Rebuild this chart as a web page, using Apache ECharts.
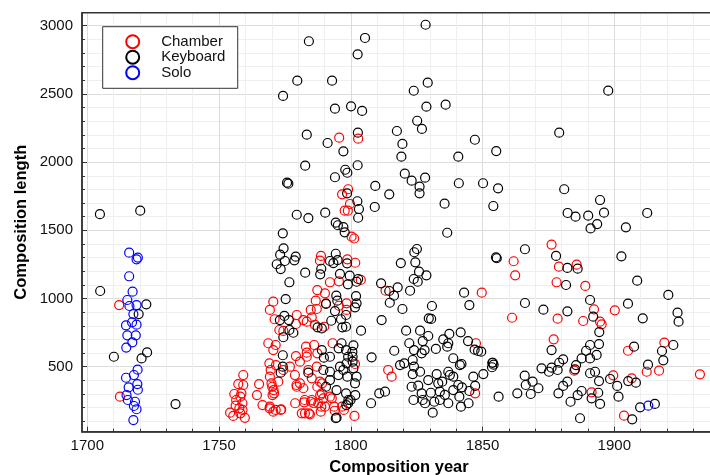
<!DOCTYPE html>
<html><head><meta charset="utf-8">
<script src="https://cdn.jsdelivr.net/npm/echarts@6/dist/echarts.min.js"></script>
<style>html,body{margin:0;padding:0;background:#fff}#c{width:710px;height:475px}</style>
</head><body><div id="c"></div><script>
// [composition year, composition length]
const chamber = [
[1712.1,952],[1712.4,280],
[1755.8,300],[1758.1,280],[1756.5,256],[1758.9,232],[1754.2,163],[1755.4,139],[1758.1,158],[1758.9,183],[1757.7,195],[1757.3,373],[1759.2,439],[1759.2,366],[1758.5,305],[1759.8,125],[1756.3,215],
[1764.4,292],[1766.5,219],[1765.2,373],[1769.9,378],[1770.7,329],[1770.3,292],[1769.2,195],[1771.5,183],[1773.6,187],[1770.6,170],[1773.4,183],[1769.3,207],
[1778.9,232],[1779.4,366],[1781.4,158],[1782.5,256],[1784.9,243],[1784.1,158],[1786,232],[1788.4,292],[1788.8,207],[1787.3,353],[1789.1,378],[1792.8,268],[1793.9,177],[1796.7,207],[1801.4,139],
[1769.1,525],[1769.6,476],[1769.3,427],[1771.6,512],[1774.4,476],[1776.9,500],[1772.5,390],[1770.2,353],[1770.9,305],
[1778.8,439],[1779.5,353],[1780.7,378],[1782,342],[1782.6,158],[1784.5,151],[1782.3,239],[1785.2,256],
[1783.9,476],[1785.2,415],[1787.1,500],[1788.3,390],[1789,305],[1787.7,232],[1789.6,268],[1790.2,207],[1783.3,573],[1780.7,537],
[1792.1,280],[1793.7,207],[1797.4,183],[1788.6,170],[1801.6,520],
[1768.7,672],[1771.5,659],[1770.6,622],[1779.2,578],[1783,647],[1783.3,603],[1786.1,659],[1787.3,598],[1793.1,672],
[1772.9,769],[1774.4,762],[1779.2,813],[1783.3,830],[1785.2,862],[1786.4,806],[1789.9,793],
[1770.6,977],[1769.3,916],[1771.1,848],[1779.5,879],[1782,842],[1784.8,916],[1787.1,923],[1786.7,984],[1787.3,1062],[1790.2,1038],[1790.6,965],[1795.5,947],[1798.4,965],[1798.4,916],
[1788.7,1312],[1788.3,1277],[1798.7,1287],[1801.7,1262],[1792.1,1119],[1795.5,1126],[1803.8,1136],[1801.3,1440],[1800.3,1453],
[1795.6,2179],[1802.8,2172],[1799,1801],[1796.7,1764],[1799.7,1693],[1797.7,1644],[1798.9,1644],
[1813.2,1057],[1814.2,476],[1815.5,427],[1849.7,1043],[1847.5,672],[1847.2,305],
[1876.2,1395],[1861.8,1273],[1862.4,1170],[1879,1233],[1885.7,1248],[1878.1,1119],[1889,1092],[1861.2,859],[1878.5,852],[1888.2,835],[1892.3,921],[1900.2,913],[1894.6,830],[1895.2,811],[1877,701],[1905.2,617],[1919,676],[1884.8,471],[1891.4,312],[1899.6,437],[1906.6,415],[1912.3,463],[1917,471],[1932.5,444],[1903.7,141]
];
const keyboard = [
[1704.8,1618],[1720.1,1644],[1704.9,1055],[1722.4,957],[1719.5,886],[1710.1,573],[1720.6,561],[1722.7,605],[1733.5,226],
[1828.4,3007],[1784.1,2886],[1805.4,2910],[1802.6,2790],[1779.7,2597],[1792.9,2597],[1829.2,2582],[1823.9,2523],[1774.3,2485],[1794,2392],[1800.1,2409],[1804.3,2375],[1828.7,2406],[1836,2421],[1825.2,2303],[1827,2243],[1817.5,2228],[1783.3,2201],[1802.7,2216],[1847.1,2164],[1791.2,2140],[1819.6,2133],[1797.2,2079],[1855.2,2081],[1819.2,2040],[1840.8,2040],[1782.7,1974],[1802.6,1977],[1797.9,1944],[1798.7,1922],[1794,1889],[1820.5,1915],[1823.1,1864],[1828.2,1886],[1826.1,1820],[1826.1,1771],[1775.8,1849],[1776.3,1842],[1809.3,1825],[1814.6,1764],[1841,1845],[1850.2,1845],[1855.9,1808],[1798.6,1771],[1802.5,1713],[1835.6,1695],[1854.1,1678],[1809.1,1671],[1803.1,1656],[1802.8,1592],[1779.5,1614],[1783.9,1590],[1790.3,1629],[1794.3,1556],[1795.1,1537],[1797.2,1524],[1797.7,1485],[1774.2,1478],[1836.6,1482],
[1774.5,1368],[1773.2,1321],[1775,1275],[1771.9,1251],[1773.4,1216],[1779.1,1307],[1778.6,1280],[1794.3,1328],[1792.1,1275],[1793.4,1260],[1795,1282],[1798.6,1258],[1782.7,1189],[1788.4,1177],[1788.8,1218],[1795.9,1180],[1799.6,1167],[1802.8,1143],[1802.2,1123],[1798.9,1104],[1776.7,1119],[1811.5,1111],[1814.6,1055],[1816.4,1021],[1817.8,1082],[1822.5,1057],[1814.8,969],[1819.6,923],[1819,1260],[1824.5,1265],[1824.1,1339],[1825.1,1363],[1825.9,1197],[1823.9,1143],[1825.4,1123],[1828.7,1170],[1830.8,945],[1829.6,855],[1830.5,850],[1843,1043],[1845,952],[1855.4,1295],[1775.3,996],[1773.1,842],[1774.8,872],[1776.5,842],[1790.6,960],[1794.5,1021],[1794.9,984],[1794,908],[1802,1018],[1802.2,965],[1801.6,935],[1798.2,879],[1803.9,764],[1787.4,789],[1789,781],[1792.6,837],[1796.3,848],[1796.8,789],[1798.2,793],[1776.7,769],[1778.2,749],[1774.4,716],[1774.2,584],[1789,622],[1789.8,566],[1792.1,573],[1795.4,635],[1796.5,672],[1798.2,622],[1800.6,608],[1801,657],[1800.7,573],[1807.9,569],[1816.5,617],[1811.7,842],[1821,764],[1822.2,672],[1826.3,764],[1827.3,688],[1829.4,725],[1826.9,598],[1824,622],[1828,622],[1832.3,630],[1835.1,701],[1837,672],[1837.4,740],[1836.6,647],[1841.7,752],[1844.5,688],[1848.3,615],[1847,625],[1838.9,562],[1841.4,512],[1842,520],[1850.3,446],[1853.7,529],[1854.2,515],[1856.1,280],[1818.7,512],[1820.3,525],[1823.5,549],[1824,500],[1823.5,446],[1826.3,463],[1810.8,305],[1813,317],[1807.7,232],[1823.1,353],[1826.9,305],[1827.3,256],[1828.2,232],[1829.4,402],[1830.4,309],[1831.1,163],[1831.7,243],[1832.6,446],[1833.2,378],[1834.7,390],[1833.8,317],[1837,463],[1837.6,439],[1838.9,427],[1835.7,293],[1837,232],[1838.9,329],[1841.2,280],[1841.8,207],[1840.8,366],[1842.2,349],[1844.7,232],[1846.5,427],[1847.2,359],[1845,322],[1833.8,256],[1823.8,256],[1825.6,361],
[1773.4,456],[1774.2,500],[1783.9,456],[1789.6,476],[1792.1,463],[1795.3,439],[1795.9,500],[1797.2,476],[1799,573],[1800.7,537],[1801,488],[1802.2,427],[1801.6,378],[1798.7,427],[1794.6,329],[1798.2,305],[1799,232],[1794.6,126],[1790.6,353],[1792.1,402],[1798.4,525],[1794.3,122],[1798.3,219],[1799.1,256],[1799.9,256],[1801.7,292],
[1897.7,2524],[1879.1,2216],[1881,1801],[1894.6,1722],[1882.3,1627],[1885.3,1600],[1890.1,1607],[1893.5,1546],[1896.1,1629],[1891,1514],[1912.5,1627],[1904.4,1522],[1855.1,1302],[1866.1,1361],[1877.9,1312],[1882.2,1224],[1886.1,1219],[1881.7,1099],[1902.7,1309],[1908.7,1131],[1866.1,967],[1873.1,918],[1882.2,906],[1890.8,989],[1892,867],[1894.3,754],[1905.2,962],[1910.8,855],[1920.5,1026],[1924,896],[1924.4,830],[1876.2,622],[1890.8,659],[1889.3,617],[1894.2,666],[1893.3,586],[1890.8,561],[1887.6,561],[1907.5,647],[1922.4,659],[1918.1,615],[1918.6,547],[1880.6,554],[1879.1,529],[1876.2,493],[1872.4,488],[1875.2,463],[1878.5,476],[1885.5,512],[1885.1,481],[1849.5,610],[1853.9,529],[1853.6,496],[1866,434],[1869,390],[1866.4,366],[1871.2,342],[1863.2,305],[1868.3,300],[1878.8,305],[1880.6,359],[1882.2,390],[1883.4,243],[1886.1,292],[1887.6,322],[1887,122],[1890.8,452],[1892.7,463],[1894.2,395],[1891.4,268],[1893.9,309],[1894.6,227],[1898.4,410],[1901.1,359],[1901.6,280],[1905.3,395],[1908.2,383],[1912.8,515],[1906.8,114],[1909.8,202],[1915.4,227]
];
const solo = [
[1715.9,1336],[1718.7,1287],[1719.2,1300],[1715.9,1163],[1717.2,1050],[1715.2,989],[1716,945],[1718.7,952],[1717.5,886],[1714.7,803],[1718.7,808],[1717,825],[1715.2,730],[1718.4,730],[1717.1,679],[1714.8,640],[1719.1,478],[1714.7,419],[1717.7,439],[1719,373],[1715.7,349],[1719.2,331],[1714.9,292],[1715.4,256],[1718.1,243],[1717.7,212],[1718.7,188],[1717.5,109],[1912.9,214]
];
const seriesNames = ['Chamber','Keyboard','Solo'];
const seriesColors = ['#ff0000','#000000','#0000ff'];
const xTitle = 'Composition year';
const yTitle = 'Composition length';

const FF = "'Liberation Sans', Arial, sans-serif";
const chart = echarts.init(document.getElementById('c'), null, {renderer:'canvas'});
const plain = v => String(v);

function sc(name, data, color){
  return {type:'scatter', name:name, data:data, xAxisIndex:0, yAxisIndex:0,
    symbol:'circle', symbolSize:9, silent:true,
    itemStyle:{color:'rgba(0,0,0,0)', borderColor:color, borderWidth:1.2, opacity:1},
    emphasis:{disabled:true}};
}
const G = {top:12.7, bottom:43.3};
const option = {
  animation:false,
  backgroundColor:'#fff',
  grid:[
    {left:82, right:-6, top:G.top, bottom:G.bottom, show:true, borderColor:'#333', borderWidth:1.5, backgroundColor:'rgba(0,0,0,0)', z:10, outerBoundsMode:'none'},
    {left:87.3, right:-36.05, top:G.top, bottom:G.bottom, outerBoundsMode:'none'},
    {left:82, right:-6, top:12.06, bottom:53.7, outerBoundsMode:'none'},
    {left:82, right:-6, top:25.7, bottom:108.3, outerBoundsMode:'none'}
  ],
  legend:{
    orient:'vertical', left:102.7, top:26.7, itemWidth:13, itemHeight:13, itemGap:0.5,
    padding:[7.5,12.3,8.1,22.5], borderColor:'#333', borderWidth:1, backgroundColor:'#fff',
    selectedMode:false, data:seriesNames,
    textStyle:{fontSize:15, fontFamily:FF, color:'#111', padding:[0,0,0,17]}
  },
  xAxis:[
    {gridIndex:0, type:'value', min:1698, max:1938.6, z:5,
     axisLine:{show:true, onZero:false, lineStyle:{color:'#333', width:1.5}},
     axisTick:{show:false}, axisLabel:{show:false}, splitLine:{show:false},
     name:xTitle, nameLocation:'middle', nameGap:27,
     nameTextStyle:{fontSize:16.5, fontWeight:'bold', color:'#000', fontFamily:FF}},
    {gridIndex:1, type:'value', min:1700, max:1950, interval:50,
     axisLine:{show:false},
     axisTick:{show:true, inside:true, length:5, lineStyle:{color:'#333', width:1}},
     minorTick:{show:true, splitNumber:5, length:3, lineStyle:{color:'#333', width:1}},
     axisLabel:{fontSize:15, margin:7, color:'#111', fontFamily:FF, showMaxLabel:false, formatter:plain},
     splitLine:{show:true, lineStyle:{color:'#dcdcdc', width:1}},
     minorSplitLine:{show:true, lineStyle:{color:'#efefef', width:1}}},
    {gridIndex:2, type:'value', show:false, min:0, max:1},
    {gridIndex:3, type:'value', show:false, min:0, max:1}
  ],
  yAxis:[
    {gridIndex:0, type:'value', min:23.5, max:3095.3, z:5,
     axisLine:{show:true, onZero:false, lineStyle:{color:'#333', width:1.5}},
     axisTick:{show:false}, axisLabel:{show:false}, splitLine:{show:false},
     name:yTitle, nameLocation:'middle', nameGap:52, nameRotate:90,
     nameTextStyle:{fontSize:16.5, fontWeight:'bold', color:'#000', fontFamily:FF}},
    {gridIndex:1, type:'value', show:false, min:0, max:1},
    {gridIndex:2, type:'value', min:100, max:3100, interval:100,
     axisLine:{show:false},
     axisTick:{show:true, inside:true, length:3, lineStyle:{color:'#333', width:1}},
     axisLabel:{show:false},
     splitLine:{show:true, lineStyle:{color:'#efefef', width:1}}},
    {gridIndex:3, type:'value', min:500, max:3000, interval:500,
     axisLine:{show:false},
     axisTick:{show:true, inside:true, length:5, lineStyle:{color:'#333', width:1}},
     axisLabel:{fontSize:15, margin:9, color:'#111', fontFamily:FF, formatter:plain},
     splitLine:{show:true, lineStyle:{color:'#dcdcdc', width:1}}}
  ],
  series:[
    sc(seriesNames[0], chamber, seriesColors[0]),
    sc(seriesNames[1], keyboard, seriesColors[1]),
    sc(seriesNames[2], solo, seriesColors[2])
  ]
};
chart.setOption(option);
</script></body></html>
